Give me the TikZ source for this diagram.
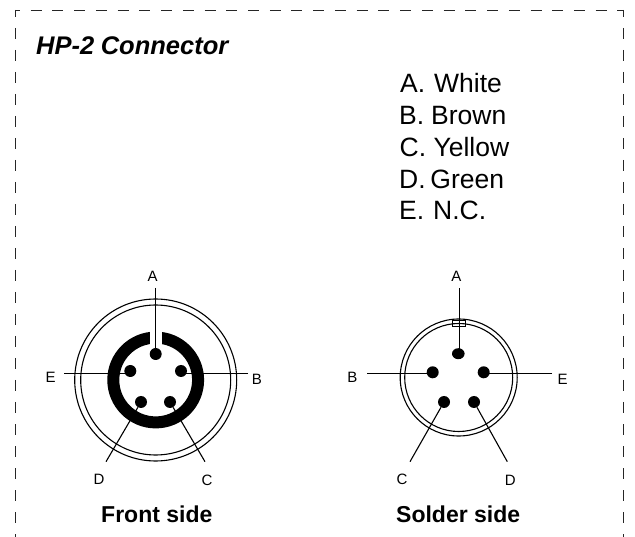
\documentclass[tikz,border=0pt]{standalone}
\usepackage{fontspec}
\usetikzlibrary{shapes.geometric}
\setmainfont{Liberation Sans}
\tikzset{
  x=1pt,y=1pt,
  pin/.style={circle,fill=black,draw=none,minimum size=12pt,inner sep=0pt},
  epin/.style={ellipse,fill=black,draw=none,minimum width=12.6pt,minimum height=11pt,inner sep=0pt},
  lead/.style={line width=1.1pt,draw=black},
  thinring/.style={line width=1.1pt,draw=black},
  lab/.style={font=\fontsize{15}{17}\selectfont,inner sep=0pt},
  captxt/.style={font=\fontsize{23}{25}\selectfont\bfseries,inner sep=0pt,anchor=base west},
  wire/.style={font=\fontsize{26.5}{28}\selectfont,inner sep=0pt,anchor=base west},
  frameh/.style={line width=0.9pt,draw=black!85,dash pattern=on 11pt off 10.73pt,dash phase=6pt},
  framev/.style={line width=0.9pt,draw=black!85,dash pattern=on 11pt off 11pt,dash phase=4pt}
}
\begin{document}
\begin{tikzpicture}
\useasboundingbox (0,0) rectangle (635,-537);
% frame
\coordinate (fbl) at (15,-537);
\coordinate (ftl) at (15,-10);
\coordinate (ftr) at (623,-10);
\coordinate (fbr) at (623,-537);
\draw[frameh] (ftl) -- (ftr);
\draw[framev] (ftl) -- (fbl);
\draw[framev] (ftr) -- (fbr);
% title
\node[font=\fontsize{25.5}{28}\selectfont\bfseries\itshape,inner sep=0pt,anchor=base west] (title) at (36,-54.3) {HP-2\hspace{-0.6pt} Connector};
% wire list
\node[wire] (wa) at (400,-93) {A.\hspace{1.6pt} White};
\node[wire] (wb) at (399,-125) {B.\hspace{-0.4pt} Brown};
\node[wire] (wc) at (399.5,-157) {C. Yellow};
\node[wire] (wd) at (399,-189) {D.\hspace{-2.6pt} Green};
\node[wire] (we) at (399,-220) {E.\hspace{1.6pt} N.C.};
% front side
\coordinate (fc) at (155.7,-380);
\draw[thinring] (fc) circle[radius=81];
\draw[thinring] (fc) circle[radius=75];
\draw[line width=12pt] (fc) circle[radius=42.4];
\fill[white] (150.2,-326) rectangle (161.8,-346);
\node[pin] (fA) at (155.7,-354) {};
\node[pin] (fB) at (181,-371) {};
\node[pin] (fC) at (170,-402) {};
\node[pin] (fD) at (141,-402) {};
\node[pin] (fE) at (130.3,-371) {};
\coordinate (fAe) at (155.7,-288);
\coordinate (fBe) at (248,-373.7);
\coordinate (fCe) at (205,-461.7);
\coordinate (fDe) at (106,-461.7);
\coordinate (fEe) at (64,-373.7);
\coordinate (fBs) at (181,-373.7);
\coordinate (fEs) at (130.3,-373.7);
\draw[lead] (fAe) -- (fA);
\draw[lead] (fBe) -- (fBs);
\draw[lead] (fCe) -- (fC);
\draw[lead] (fDe) -- (fD);
\draw[lead] (fEe) -- (fEs);
\node[lab] (flA) at (152.7,-276) {A};
\node[lab] (flB) at (257,-379) {B};
\node[lab] (flC) at (207,-480) {C};
\node[lab] (flD) at (99,-479) {D};
\node[lab] (flE) at (50.7,-377) {E};
\node[captxt] (fcap) at (101,-522) {Front side};
% solder side
\coordinate (sc) at (458.7,-377.5);
\draw[thinring] (sc) circle[radius=58.5];
\draw[thinring] (sc) circle[radius=54];
\node[draw=black,line width=0.7pt,fill=none,minimum width=12.6pt,minimum height=5.3pt,inner sep=0pt] (skey) at (459,-323.3) {};
\node[epin] (sA) at (458.3,-353.7) {};
\node[pin] (sB) at (432.7,-372.3) {};
\node[pin] (sC) at (444,-402) {};
\node[pin] (sD) at (474,-402) {};
\node[pin] (sE) at (483.7,-372.3) {};
\coordinate (sAe) at (459.7,-288.3);
\coordinate (sAs) at (459.7,-353.7);
\coordinate (sBe) at (367.3,-373.7);
\coordinate (sBs) at (432.7,-373.7);
\coordinate (sCe) at (410,-461.7);
\coordinate (sDe) at (507.3,-461.7);
\coordinate (sEe) at (552,-373.7);
\coordinate (sEs) at (483.7,-373.7);
\draw[lead] (sAe) -- (sAs);
\draw[lead] (sBe) -- (sBs);
\draw[lead] (sCe) -- (sC);
\draw[lead] (sDe) -- (sD);
\draw[lead] (sEe) -- (sEs);
\node[lab] (slA) at (456.3,-276) {A};
\node[lab] (slB) at (352.3,-377) {B};
\node[lab] (slC) at (402,-479) {C};
\node[lab] (slD) at (510.3,-480) {D};
\node[lab] (slE) at (562.7,-379) {E};
\node[captxt] (scap) at (396,-522) {Solder side};
\end{tikzpicture}
\end{document}
